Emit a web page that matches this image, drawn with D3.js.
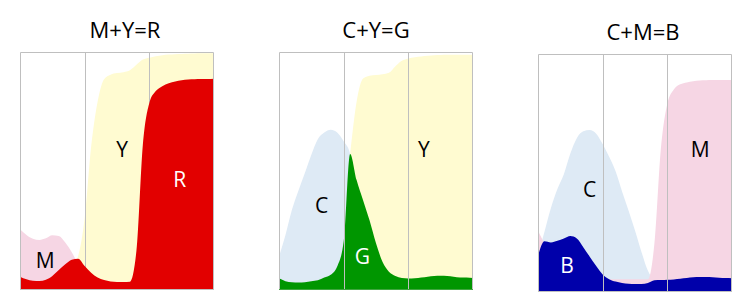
<!DOCTYPE html>
<html>
<head>
<meta charset="utf-8">
<script src="https://cdn.jsdelivr.net/npm/d3@7"></script>
<style>
  body { margin: 0; background: #fff; }
  svg { display: block; }
  text { font-family: "Open Sans", sans-serif; }
</style>
</head>
<body>
<svg id="chart" width="745" height="307"></svg>
<script>
// wavelength grid (nm) shared by every curve
const wavelengths = [400, 410, 420, 430, 440, 450, 460, 470, 480, 490, 500, 510, 520, 530, 540, 550,
  560, 570, 580, 590, 600, 610, 620, 630, 640, 650, 660, 670, 680, 690, 700];
const gridNm = [500, 600];

// M+Y=R panel
const yellowMYR = [0.02, 0.02, 0.02, 0.02, 0.03, 0.04, 0.05, 0.07, 0.09, 0.14, 0.30, 0.60, 0.79, 0.885, 0.904, 0.911,
  0.915, 0.923, 0.946, 0.968, 0.976, 0.982, 0.986, 0.989, 0.991, 0.992, 0.993, 0.994, 0.995, 0.995, 0.996];
const magentaMYR = [0.252, 0.228, 0.212, 0.207, 0.214, 0.227, 0.224, 0.196, 0.155, 0.105, 0.06, 0.02, 0.02, 0.02, 0.02, 0.02,
  0.02, 0.02, 0.02, 0.02, 0.02, 0.02, 0.02, 0.02, 0.02, 0.02, 0.02, 0.02, 0.02, 0.02, 0.02];
const redMYR = [0.052, 0.041, 0.035, 0.034, 0.039, 0.055, 0.08, 0.104, 0.123, 0.128, 0.097, 0.069, 0.048, 0.038, 0.032, 0.03,
  0.03, 0.031, 0.16, 0.61, 0.785, 0.835, 0.856, 0.868, 0.876, 0.881, 0.884, 0.885, 0.886, 0.886, 0.887];

// C+Y=G panel
const yellowCYG = [0.03, 0.03, 0.03, 0.03, 0.03, 0.04, 0.05, 0.07, 0.1, 0.15, 0.3, 0.57, 0.79, 0.888, 0.9, 0.903,
  0.906, 0.912, 0.94, 0.963, 0.973, 0.978, 0.981, 0.984, 0.986, 0.987, 0.988, 0.988, 0.988, 0.988, 0.988];
const cyanCYG = [0.137, 0.228, 0.334, 0.415, 0.489, 0.566, 0.632, 0.66, 0.672, 0.66, 0.623, 0.57, 0.38, 0.2, 0.1, 0.05,
  0.03, 0.02, 0.02, 0.02, 0.02, 0.02, 0.02, 0.02, 0.02, 0.02, 0.02, 0.02, 0.02, 0.02, 0.02];
const greenCYG = [0.045, 0.033, 0.028, 0.027, 0.029, 0.033, 0.037, 0.048, 0.06, 0.095, 0.2, 0.57, 0.46, 0.375, 0.29, 0.193,
  0.115, 0.073, 0.055, 0.046, 0.044, 0.045, 0.048, 0.052, 0.055, 0.056, 0.055, 0.052, 0.049, 0.048, 0.046];

// C+M=B panel
const cyanCMB = [0.15, 0.25, 0.35, 0.43, 0.493, 0.58, 0.645, 0.674, 0.679, 0.664, 0.62, 0.566, 0.505, 0.42, 0.34, 0.255,
  0.165, 0.085, 0.045, 0.03, 0.03, 0.03, 0.03, 0.03, 0.03, 0.03, 0.03, 0.03, 0.03, 0.03, 0.03];
const magentaCMB = [0.254, 0.2, 0.15, 0.1, 0.07, 0.05, 0.05, 0.05, 0.05, 0.05, 0.05, 0.05, 0.05, 0.05, 0.05, 0.05,
  0.05, 0.05, 0.2, 0.6, 0.79, 0.85, 0.872, 0.88, 0.885, 0.888, 0.889, 0.89, 0.89, 0.89, 0.89];
const blueCMB = [0.148, 0.21, 0.205, 0.212, 0.222, 0.232, 0.222, 0.185, 0.145, 0.105, 0.07, 0.05, 0.04, 0.034, 0.031, 0.03,
  0.03, 0.034, 0.045, 0.046, 0.047, 0.049, 0.052, 0.055, 0.058, 0.059, 0.059, 0.058, 0.056, 0.055, 0.054];

// labels: [text, wavelength, value, colour]
const labelsMYR = [["M", 439, 0.09, "#000"], ["Y", 558, 0.559, "#000"], ["R", 647, 0.432, "#fff"]];
const labelsCYG = [["C", 466, 0.32, "#000"], ["G", 529, 0.104, "#fff"], ["Y", 624, 0.559, "#000"]];
const labelsCMB = [["C", 480, 0.396, "#000"], ["B", 445, 0.078, "#fff"], ["M", 651, 0.566, "#000"]];

const col = {
  yellow: "#fffbd1", magenta: "#f6d6e4", cyan: "#deeaf5",
  red: "#e20000", green: "#009600", blue: "#0000aa", grid: "#bfbfbf"
};

const panels = [
  { title: "M+Y=R", left: 20, top: 52, titleDx: 8, gridAt: 2, floor: col.grid,
    layers: [[yellowMYR, col.yellow], [magentaMYR, col.magenta], [redMYR, col.red]], labels: labelsMYR },
  { title: "C+Y=G", left: 279, top: 52, titleDx: 0, gridAt: 3, floor: "#3fa63f",
    layers: [[yellowCYG, col.yellow], [cyanCYG, col.cyan], [greenCYG, col.green]], labels: labelsCYG },
  { title: "C+M=B", left: 538, top: 54, titleDx: 8, gridAt: 3, floor: col.grid,
    layers: [[cyanCMB, col.cyan], [magentaCMB, col.magenta], [blueCMB, col.blue]], labels: labelsCMB },
];

const W = 194, H = 237;
const svg = d3.select("#chart");

const x = d3.scaleLinear().domain([400, 700]).range([0, W]);
const y = d3.scaleLinear().domain([0, 1]).range([H, 0]);

const area = d3.area()
  .x((d, i) => x(wavelengths[i]))
  .y0(H)
  .y1((d) => y(d))
  .curve(d3.curveMonotoneX);

panels.forEach((p) => {
  const g = svg.append("g").attr("transform", `translate(${p.left},${p.top})`);

  g.append("text")
    .attr("x", W / 2 + p.titleDx)
    .attr("y", -14.5)
    .attr("text-anchor", "middle")
    .attr("font-size", 22)
    .attr("fill", "#000")
    .text(p.title);

  const drawGrid = () => {
    g.append("g").selectAll("line")
      .data(gridNm)
      .join("line")
      .attr("x1", (d) => Math.round(x(d)) + 0.5)
      .attr("x2", (d) => Math.round(x(d)) + 0.5)
      .attr("y1", 0)
      .attr("y2", H)
      .attr("stroke", col.grid);
  };

  p.layers.forEach(([vals, color], i) => {
    if (i === p.gridAt) drawGrid();
    g.append("path").datum(vals).attr("d", area).attr("fill", color);
  });
  if (p.gridAt >= p.layers.length) drawGrid();

  // frame
  g.append("path")
    .attr("d", `M0.5,${H}V0.5H${W - 0.5}V${H}`)
    .attr("fill", "none")
    .attr("stroke", col.grid);
  g.append("line")
    .attr("x1", 0).attr("x2", W)
    .attr("y1", H + 0.5).attr("y2", H + 0.5)
    .attr("stroke", p.floor);

  g.append("g").selectAll("text")
    .data(p.labels)
    .join("text")
    .attr("x", (d) => x(d[1]))
    .attr("y", (d) => y(d[2]))
    .attr("text-anchor", "middle")
    .attr("font-size", 21)
    .attr("fill", (d) => d[3])
    .text((d) => d[0]);
});
</script>
</body>
</html>
